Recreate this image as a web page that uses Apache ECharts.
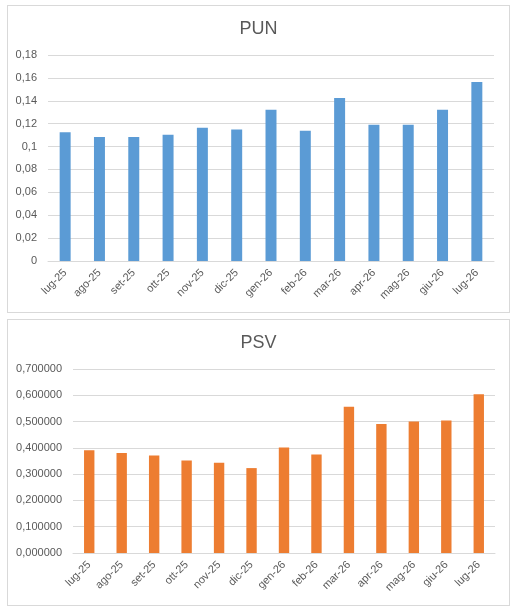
<!DOCTYPE html>
<html>
<head>
<meta charset="utf-8">
<script src="https://cdn.jsdelivr.net/npm/echarts@6/dist/echarts.min.js"></script>
<style>
  body { margin: 0; background: #fff; }
  .box { position: absolute; border: 1px solid #d9d9d9; background: #fff; box-sizing: border-box; }
  #pun { left: 7px; top: 5px; width: 503px; height: 308px; }
  #psv { left: 7px; top: 319px; width: 503px; height: 287px; }
</style>
</head>
<body>
<div id="pun" class="box"></div>
<div id="psv" class="box"></div>
<script>
// mesi
var months = ['lug-25','ago-25','set-25','ott-25','nov-25','dic-25','gen-26','feb-26','mar-26','apr-26','mag-26','giu-26','lug-26'];
// valori PUN
var punValues = [0.1124, 0.1083, 0.1083, 0.1103, 0.1164, 0.115, 0.1321, 0.1138, 0.1425, 0.119, 0.119, 0.1321, 0.1565];
// valori PSV
var psvValues = [0.391, 0.380, 0.371, 0.352, 0.343, 0.323, 0.401, 0.375, 0.556, 0.491, 0.500, 0.504, 0.604];

var txtColor = '#595959';
var lineColor = '#d9d9d9';
var font = 'Liberation Sans';

function getOption(title, data, color, yMax, yStep, fmt, grid) {
	return {
		animation: false,
		textStyle: { fontFamily: font },
		title: {
			text: title,
			left: 'center',
			top: 9,
			textStyle: { color: txtColor, fontSize: 18, fontWeight: 'normal', fontFamily: font }
		},
		grid: grid,
		xAxis: {
			type: 'category',
			data: months,
			axisLine: { lineStyle: { color: lineColor } },
			axisTick: { length: 4, lineStyle: { color: lineColor } },
			axisLabel: { rotate: 45, color: txtColor, fontSize: 11, margin: 10, interval: 0 }
		},
		yAxis: {
			type: 'value',
			min: 0,
			max: yMax,
			interval: yStep,
			axisLine: { show: false },
			axisTick: { show: false },
			splitLine: { lineStyle: { color: lineColor } },
			axisLabel: { color: txtColor, fontSize: 11, margin: 11, formatter: fmt }
		},
		series: [{
			type: 'bar',
			data: data,
			barWidth: '32%',
			itemStyle: { color: color }
		}]
	};
}

var punChart = echarts.init(document.getElementById('pun'));
punChart.setOption(getOption('PUN', punValues, '#5b9bd5', 0.18, 0.02, function(v){
	return String(Number(v.toFixed(2))).replace('.', ',');
}, { left: 40, right: 15, top: 49, bottom: 51 }));

var psvChart = echarts.init(document.getElementById('psv'));
psvChart.setOption(getOption('PSV', psvValues, '#ed7d31', 0.7, 0.1, function(v){
	return v.toFixed(6).replace('.', ',');
}, { left: 65, right: 14, top: 49, bottom: 52 }));
</script>
</body>
</html>
